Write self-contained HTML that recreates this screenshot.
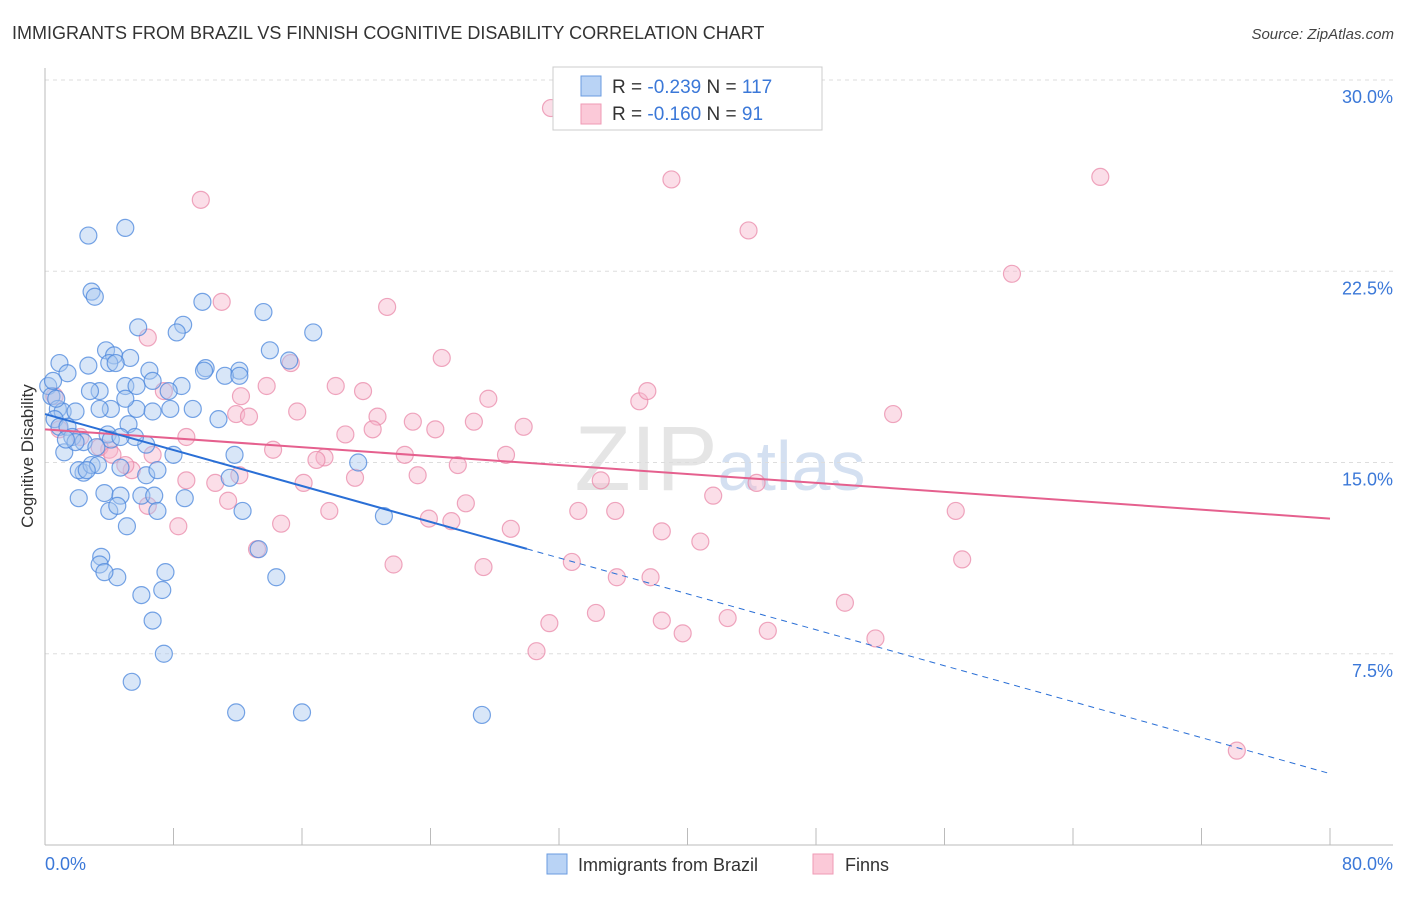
<!DOCTYPE html>
<html><head><meta charset="utf-8"><style>
body{margin:0;background:#fff;font-family:"Liberation Sans",sans-serif;}
svg text{font-family:"Liberation Sans",sans-serif;}
</style></head><body>
<svg id="chart" width="1406" height="892" xmlns="http://www.w3.org/2000/svg">
<text x="12" y="39" font-size="18" fill="#333">IMMIGRANTS FROM BRAZIL VS FINNISH COGNITIVE DISABILITY CORRELATION CHART</text>
<text x="1394" y="39" font-size="15" fill="#444" font-style="italic" text-anchor="end">Source: ZipAtlas.com</text>
<text x="720" y="490" font-size="92" fill="#d4d4d4" opacity="0.6" text-anchor="middle" font-family="Liberation Serif">ZIP<tspan fill="#b8cce8" font-family="Liberation Sans" font-size="70">atlas</tspan></text>
<g id="grid"></g>
<g id="axes"></g>
<g id="pts"></g>
<g id="trends"></g>
<text transform="translate(33,456) rotate(-90)" font-size="17" fill="#333" text-anchor="middle">Cognitive Disability</text>
<text x="45" y="870" font-size="18" fill="#3b78d8">0.0%</text>
<text x="1393" y="870" font-size="18" fill="#3b78d8" text-anchor="end">80.0%</text>
<g>
<rect x="553" y="67" width="269" height="63" fill="#fff" stroke="#ccc"/>
<rect x="581" y="76" width="20" height="20" fill="#b9d3f5" stroke="#6a9be0"/>
<rect x="581" y="104" width="20" height="20" fill="#fbc9d8" stroke="#ef9ab5"/>
<text x="612" y="93" font-size="19" fill="#333">R = <tspan fill="#3b78d8">-0.239</tspan>   N = <tspan fill="#3b78d8">117</tspan></text>
<text x="612" y="120" font-size="19" fill="#333">R = <tspan fill="#3b78d8">-0.160</tspan>   N =  <tspan fill="#3b78d8"> 91</tspan></text>
</g>
<g><rect x="547" y="854" width="20" height="20" fill="#b9d3f5" stroke="#6a9be0"/><text x="578" y="871" font-size="18" fill="#333">Immigrants from Brazil</text></g>
<g><rect x="813" y="854" width="20" height="20" fill="#fbc9d8" stroke="#ef9ab5"/><text x="845" y="871" font-size="18" fill="#333">Finns</text></g>
</svg>
<script>
const yTicks=[7.5,15,22.5,30];
const yTickLabels=["7.5%","15.0%","22.5%","30.0%"];
const xTicks=[0,8,16,24,32,40,48,56,64,72,80];
const brazilX=[2.7,5.0,2.9,3.1,9.8,13.6,5.8,8.6,8.2,16.7,0.9,2.7,3.8,4.3,5.3,4.0,4.4,1.4,6.5,10.0,12.1,14.0,15.2,11.2,12.1,9.9,5.0,8.5,5.7,3.4,2.8,7.7,6.7,0.2,0.4,0.8,1.1,1.9,4.1,5.7,5.0,6.7,7.8,9.2,10.8,5.2,6.3,3.9,4.1,5.6,0.6,0.9,1.4,1.7,2.4,3.2,1.2,2.4,2.1,2.9,3.3,4.7,6.3,7.0,8.0,11.8,11.5,19.5,2.1,3.7,4.7,6.0,6.8,8.7,4.0,4.5,7.0,12.3,21.1,5.1,3.5,3.4,4.5,3.7,7.5,6.0,7.3,13.3,14.4,6.7,7.4,5.4,11.9,16.0,27.2,1.9,3.4,4.7,2.6,1.3,0.7,0.5];
const brazilY=[23.9,24.2,21.7,21.5,21.3,20.9,20.3,20.4,20.1,20.1,18.9,18.8,19.4,19.2,19.1,18.9,18.9,18.5,18.6,18.7,18.6,19.4,19.0,18.4,18.4,18.6,18.0,18.0,18.0,17.8,17.8,17.8,18.2,18.0,17.6,17.1,17.0,17.0,17.1,17.1,17.5,17.0,17.1,17.1,16.7,16.5,15.7,16.1,15.9,16.0,16.7,16.4,16.4,16.0,15.8,15.6,15.4,14.6,14.7,14.9,14.9,14.8,14.5,14.7,15.3,15.3,14.4,15.0,13.6,13.8,13.7,13.7,13.7,13.6,13.1,13.3,13.1,13.1,12.9,12.5,11.3,11.0,10.5,10.7,10.7,9.8,10.0,11.6,10.5,8.8,7.5,6.4,5.2,5.2,5.1,15.8,17.1,16.0,14.7,15.9,17.5,18.2];
const finnsX=[31.5,39.0,65.7,9.7,43.8,60.2,11.0,21.3,6.4,24.7,15.3,13.8,18.1,19.8,27.6,7.4,12.2,37.0,37.5,52.8,11.9,12.7,15.7,20.7,22.9,26.7,29.8,18.7,24.3,8.8,20.4,17.4,14.2,22.4,16.9,25.7,28.7,4.0,5.4,5.0,10.6,12.1,16.1,19.3,23.2,34.6,41.6,26.2,11.4,17.7,14.7,23.9,25.3,29.0,33.2,35.5,8.3,13.2,38.4,40.8,56.7,57.1,21.7,27.3,32.8,35.6,37.7,49.8,31.4,34.3,38.4,39.7,42.5,45.0,51.7,30.6,74.2,0.6,0.9,2.2,3.4,6.7,4.2,8.8,6.4,44.3];
const finnsY=[28.9,26.1,26.2,25.3,24.1,22.4,21.3,21.1,19.9,19.1,18.9,18.0,18.0,17.8,17.5,17.8,17.6,17.4,17.8,16.9,16.9,16.8,17.0,16.8,16.6,16.6,16.4,16.1,16.3,16.0,16.3,15.2,15.5,15.3,15.1,14.9,15.3,15.5,14.7,14.9,14.2,14.5,14.2,14.4,14.5,14.3,13.7,13.4,13.5,13.1,12.6,12.8,12.7,12.4,13.1,13.1,12.5,11.6,12.3,11.9,13.1,11.2,11.0,10.9,11.1,10.5,10.5,9.5,8.7,9.1,8.8,8.3,8.9,8.4,8.1,7.6,3.7,17.6,16.3,16.0,15.6,15.3,15.3,14.3,13.3,14.2];
const brazilTrend=[16.9,2.8];const brazilSolidEnd=30;
const finnsTrend=[16.3,12.8];
const NS="http://www.w3.org/2000/svg";
const X0=45,X1=1330,Y0=845,YPER=25.5;
function sx(v){return X0+(X1-X0)*v/80;}
function sy(v){return Y0-v*YPER;}
function mk(tag,attrs,parent){const e=document.createElementNS(NS,tag);for(const k in attrs)e.setAttribute(k,attrs[k]);parent.appendChild(e);return e;}
const grid=document.getElementById('grid'),axes=document.getElementById('axes'),pts=document.getElementById('pts'),tr=document.getElementById('trends');
yTicks.forEach((t,i)=>{
 const l=mk('line',{x1:X0,x2:1393,y1:sy(t),y2:sy(t),stroke:'#ddd','stroke-dasharray':'4,4'},grid);
 
 
 const tx=mk('text',{x:1393,y:sy(t)+23,'font-size':18,fill:'#3b78d8','text-anchor':'end'},grid);
 tx.textContent=yTickLabels[i];
 
 
});
const ax=mk('line',{x1:X0,x2:X0,y1:68,y2:Y0,stroke:'#bbb'},axes);


const bx=mk('line',{x1:X0,x2:1393,y1:Y0,y2:Y0,stroke:'#bbb'},axes);


xTicks.forEach(t=>{
 const l=mk('line',{x1:sx(t),x2:sx(t),y1:828,y2:Y0,stroke:'#bbb'},axes);
 
 
});
function dots(xs,ys,fill,stroke,name){
 xs.forEach((x,i)=>{
  const c=mk('circle',{cx:sx(x),cy:sy(ys[i]),r:8.5,fill:fill,'fill-opacity':0.45,stroke:stroke,'stroke-opacity':0.75,'stroke-width':1.2},pts);
  
  
 });
}
dots(finnsX,finnsY,'#f7b6cb','#ea8aa9','finns-point');
dots(brazilX,brazilY,'#a9c8f0','#4a86dc','brazil-point');
function yAt(tr,x){return tr[0]+(tr[1]-tr[0])*x/80;}
const p=mk('line',{x1:sx(0),y1:sy(finnsTrend[0]),x2:sx(80),y2:sy(finnsTrend[1]),stroke:'#e5608e','stroke-width':2},tr);


const b1=mk('line',{x1:sx(0),y1:sy(brazilTrend[0]),x2:sx(brazilSolidEnd),y2:sy(yAt(brazilTrend,brazilSolidEnd)),stroke:'#2a6fd6','stroke-width':2},tr);


const b2=mk('line',{x1:sx(brazilSolidEnd),y1:sy(yAt(brazilTrend,brazilSolidEnd)),x2:sx(80),y2:sy(brazilTrend[1]),stroke:'#2a6fd6','stroke-width':1,'stroke-dasharray':'6,5'},tr);


</script>
</body></html>
